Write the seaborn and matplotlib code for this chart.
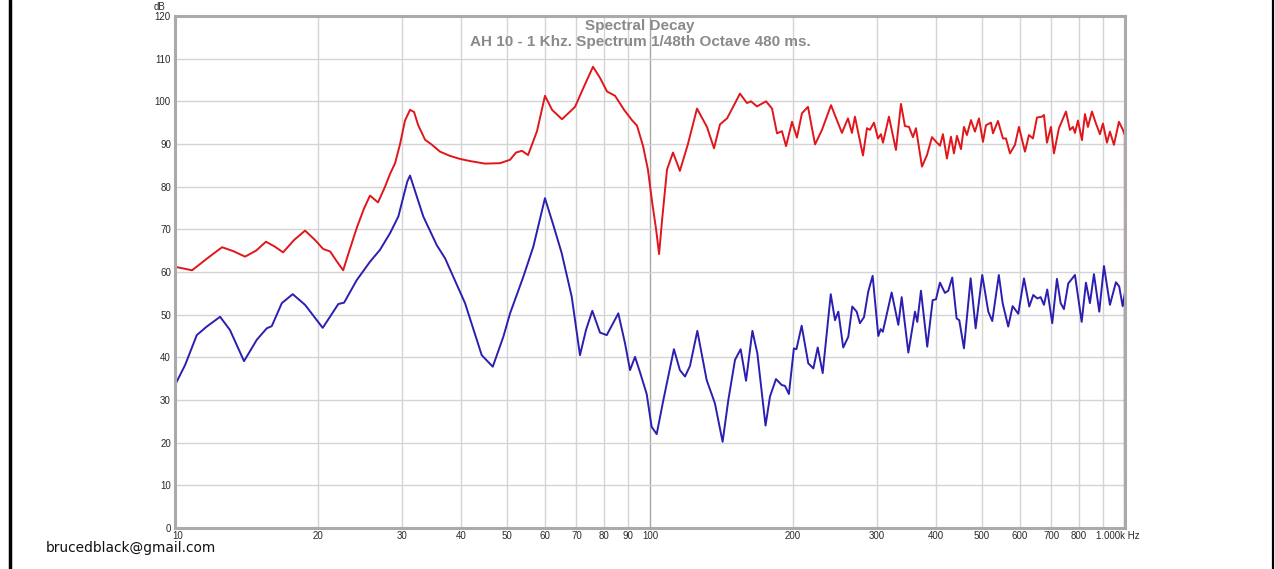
import numpy as np
import pandas as pd
import seaborn as sns
import matplotlib.pyplot as plt
import matplotlib.transforms as mtransforms
from matplotlib.lines import Line2D

# Spectral decay values (frequency in Hz, level in dB)
red_freq = [10.0, 10.02, 10.86, 11.85, 12.56, 13.25, 14.04, 14.81, 15.54, 16.24, 16.88, 17.81,
            18.78, 19.71, 20.50, 21.21, 21.93, 22.59, 23.36, 24.16, 25.0, 25.73, 26.75, 27.68,
            28.36, 29.06, 29.77, 30.49, 31.24, 31.86, 32.48, 33.60, 34.76, 36.13, 37.93, 39.81,
            41.79, 44.94, 48.33, 50.74, 52.23, 53.77, 55.37, 57.82, 60.10, 62.20, 65.28, 69.52,
            72.98, 75.86, 78.47, 81.2, 84.4, 88.2, 91.6, 93.9, 96.7, 99.0, 101.0, 103.0,
            104.5, 106.0, 108.6, 111.8, 115.6, 120.2, 125.6, 131.8, 136.4, 140.4, 145.3, 154.7,
            160.0, 163.2, 168.0, 175.5, 180.7, 185.1, 189.6, 193.4, 199.1, 203.9, 208.9, 215.1,
            222.6, 230.2, 240.5, 253.6, 261.1, 266.2, 270.1, 280.8, 286.3, 290.5, 296.2, 302.0,
            306.4, 309.4, 318.5, 329.5, 337.6, 344.2, 351.0, 357.8, 363.1, 373.8, 383.0, 392.4,
            402.0, 407.9, 413.8, 421.9, 430.2, 436.5, 442.9, 451.6, 458.2, 464.9, 474.0, 483.3,
            492.8, 502.4, 509.8, 522.3, 527.4, 540.3, 553.5, 561.7, 572.7, 586.7, 598.2, 615.9,
            627.9, 640.2, 652.8, 668.8, 675.3, 685.2, 698.6, 708.8, 726.2, 751.3, 766.0, 777.2,
            784.8, 796.3, 811.9, 823.8, 835.8, 852.2, 868.9, 885.9, 898.9, 916.5, 929.9, 948.1,
            971.3, 990.4, 999.5, 1000.0]
red_db = [0.0, 61.2, 60.4, 63.7, 65.8, 64.9, 63.6, 65.0, 67.1, 65.9, 64.6, 67.5,
          69.7, 67.5, 65.4, 64.8, 62.4, 60.4, 65.5, 70.5, 74.9, 77.9, 76.3, 80.0,
          83.0, 85.5, 90.0, 95.5, 98.0, 97.5, 94.5, 91.0, 89.8, 88.2, 87.2, 86.5,
          86.0, 85.4, 85.5, 86.3, 88.0, 88.4, 87.4, 93.0, 101.3, 98.0, 95.8, 98.7,
          104.0, 108.1, 105.5, 102.3, 101.3, 98.0, 95.6, 94.3, 89.5, 84.0, 76.5, 70.0,
          64.2, 72.0, 84.0, 88.0, 83.7, 90.0, 98.3, 94.0, 89.0, 94.6, 96.0, 101.8,
          99.6, 100.0, 98.8, 100.0, 98.3, 92.5, 93.0, 89.5, 95.2, 91.5, 97.2, 98.7,
          89.9, 93.3, 99.1, 92.6, 96.0, 92.6, 96.4, 87.3, 93.7, 93.3, 95.0, 91.3,
          92.3, 90.3, 96.4, 88.6, 99.4, 94.2, 94.0, 91.6, 93.7, 84.7, 87.4, 91.6,
          90.3, 89.6, 92.3, 86.6, 91.7, 87.8, 91.9, 88.8, 94.0, 92.1, 95.6, 92.9,
          96.0, 90.5, 94.4, 95.0, 92.5, 95.4, 91.3, 91.3, 87.8, 89.8, 94.0, 88.2,
          92.1, 91.3, 96.2, 96.4, 96.8, 90.3, 94.0, 87.8, 93.7, 97.6, 93.3, 94.0,
          92.6, 95.5, 90.9, 97.0, 94.0, 97.6, 94.8, 92.3, 94.8, 90.3, 92.9, 89.8,
          95.2, 93.3, 92.0, 0.0]

blue_freq = [10.0, 10.02, 10.50, 11.11, 11.66, 12.44, 13.05, 13.97, 14.86, 15.60, 15.98, 16.78,
             17.69, 18.78, 20.46, 22.07, 22.69, 24.13, 25.73, 27.01, 28.36, 29.52, 30.83, 31.24,
             33.32, 35.56, 37.03, 38.53, 40.79, 44.23, 46.66, 49.11, 50.74, 54.12, 56.79, 60.10,
             62.58, 65.18, 68.42, 71.22, 73.32, 75.6, 78.47, 81.08, 85.76, 88.59, 90.77, 93.0,
             95.27, 98.41, 100.8, 103.3, 106.7, 112.3, 115.6, 118.5, 121.4, 125.8, 131.6, 137.0,
             142.2, 146.2, 151.0, 155.2, 159.3, 164.3, 168.3, 175.1, 178.9, 184.2, 189.4, 192.4,
             196.1, 200.9, 203.4, 208.6, 215.4, 220.8, 225.5, 231.0, 240.2, 245.2, 249.2, 255.2,
             261.5, 266.6, 272.4, 276.7, 282.2, 288.1, 294.3, 302.5, 306.0, 309.2, 322.7, 333.3,
             338.8, 349.9, 361.4, 365.4, 372.0, 383.5, 393.7, 400.1, 407.9, 417.8, 424.6, 432.9,
             442.2, 447.9, 458.2, 473.3, 484.9, 500.7, 515.6, 525.6, 542.6, 552.7, 567.9, 580.2,
             596.2, 613.0, 628.9, 641.2, 653.8, 664.6, 675.3, 686.2, 703.0, 719.2, 732.2, 744.0,
             759.7, 784.8, 810.8, 827.8, 843.9, 860.5, 883.0, 903.3, 929.9, 957.3, 972.7, 988.9,
             999.5, 1000.0]
blue_db = [0.0, 33.7, 38.2, 45.2, 47.2, 49.5, 46.4, 39.1, 44.1, 46.8, 47.3, 52.7,
           54.8, 52.3, 46.9, 52.5, 52.8, 58.1, 62.4, 65.2, 69.1, 73.0, 81.2, 82.6,
           73.0, 66.3, 63.2, 58.9, 52.7, 40.5, 37.8, 44.8, 50.3, 58.9, 65.9, 77.3,
           71.0, 64.4, 54.2, 40.5, 46.4, 50.9, 45.8, 45.2, 50.3, 43.3, 37.0, 40.1,
           36.5, 31.4, 23.7, 22.0, 30.0, 41.9, 37.0, 35.5, 38.0, 46.2, 34.7, 29.2,
           20.2, 30.0, 39.4, 41.9, 34.5, 46.2, 40.9, 24.0, 30.8, 34.9, 33.5, 33.3,
           31.4, 42.1, 41.9, 47.4, 38.6, 37.4, 42.3, 36.3, 54.8, 48.7, 50.7, 42.3,
           44.8, 51.9, 50.7, 48.0, 49.4, 55.4, 59.1, 45.0, 46.6, 46.0, 55.2, 47.6,
           54.1, 41.1, 50.7, 48.3, 55.6, 42.5, 53.4, 53.6, 57.5, 55.1, 55.6, 58.7,
           49.1, 48.7, 42.1, 58.5, 46.8, 59.3, 50.7, 48.5, 59.3, 52.7, 47.2, 52.0,
           50.2, 58.5, 51.9, 54.6, 53.8, 54.1, 52.3, 55.9, 48.0, 58.4, 52.7, 51.3,
           57.3, 59.3, 48.3, 57.5, 52.7, 59.5, 50.7, 61.4, 52.3, 57.6, 56.6, 52.0,
           55.0, 0.0]

x_ticks = [10, 20, 30, 40, 50, 60, 70, 80, 90, 100, 200, 300, 400, 500, 600, 700, 800, 900, 1000]
x_labels = ['10', '20', '30', '40', '50', '60', '70', '80', '90', '100', '200', '300', '400',
            '500', '600', '700', '800', '', '1.000k Hz']
y_ticks = list(range(0, 121, 10))

df = pd.concat([
    pd.DataFrame({'freq': red_freq, 'db': red_db, 'curve': 'start'}),
    pd.DataFrame({'freq': blue_freq, 'db': blue_db, 'curve': 'decayed'}),
])

sns.set_style("white")
plt.rcParams['font.family'] = ['Liberation Sans', 'DejaVu Sans']

fig = plt.figure(figsize=(12.75, 5.69), dpi=100)
ax = fig.add_axes([0.1373, 0.0721, 0.745, 0.8998])

sns.lineplot(data=df, x='freq', y='db', hue='curve', palette=['#e0161b', '#2a1fb0'],
             estimator=None, sort=False, linewidth=1.4, legend=False, ax=ax,
             solid_joinstyle='round')

ax.set_xscale('log')
ax.set_xlim(10, 1000)
ax.set_ylim(0, 120)
ax.set_xticks(x_ticks)
ax.set_xticklabels(x_labels)
ax.xaxis.set_minor_locator(plt.NullLocator())
ax.set_yticks(y_ticks)
ax.set_xlabel('')
ax.set_ylabel('')
ax.tick_params(axis='x', length=0, labelsize=7, labelcolor='#2a2a2a', pad=2)
ax.tick_params(axis='y', length=0, labelsize=7, labelcolor='#2a2a2a', pad=3)
# first and last x labels are nudged, as in the original
first = ax.get_xticklabels()[0]
first.set_transform(first.get_transform() +
                    mtransforms.ScaledTranslation(0.03, 0, fig.dpi_scale_trans))
last = ax.get_xticklabels()[-1]
last.set_transform(last.get_transform() +
                   mtransforms.ScaledTranslation(-0.07, 0, fig.dpi_scale_trans))

ax.grid(True, color='#d4d4d4', linewidth=1.0)
ax.xaxis.get_gridlines()[9].set_color('#a8a8a8')
ax.set_axisbelow(True)
for s in ax.spines.values():
    s.set_visible(True)
    s.set_color('#aaaaaa')
    s.set_linewidth(2.2)

ax.annotate('dB', xy=(0, 1), xycoords='axes fraction', xytext=(-11, 4),
            textcoords='offset points', fontsize=7, color='#2a2a2a', ha='center')

fig.text(0.502, 0.955, 'Spectral Decay', ha='center', va='center',
         fontsize=11, fontweight='bold', color='#8a8a8a')
fig.text(0.502, 0.926, 'AH 10 - 1 Khz. Spectrum 1/48th Octave 480 ms.', ha='center',
         va='center', fontsize=11, fontweight='bold', color='#8a8a8a')

fig.text(0.036, 0.037, 'brucedblack@gmail.com', ha='left', va='center',
         fontsize=9.9, color='#111111', family='DejaVu Sans')

# black frame edges at left and right of the image
fig.add_artist(Line2D([0.0075, 0.0075], [0, 1], color='black', linewidth=2.5))
fig.add_artist(Line2D([0.9985, 0.9985], [0, 1], color='black', linewidth=1.6))

fig.savefig('out.png', dpi=100, facecolor='white')
